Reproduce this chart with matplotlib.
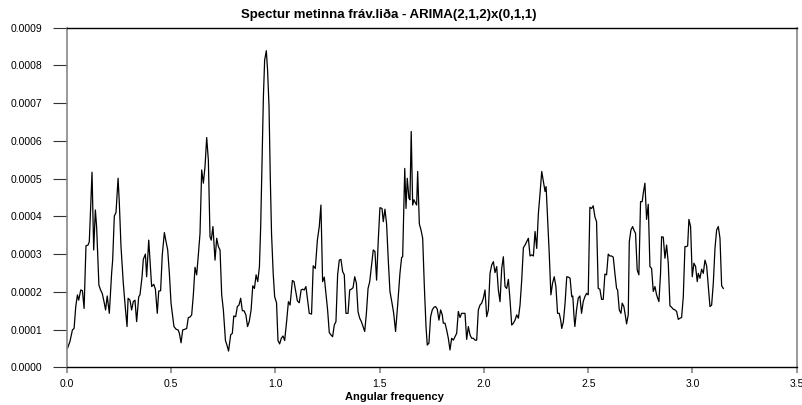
import matplotlib
matplotlib.use('Agg')
import matplotlib.pyplot as plt
import numpy as np
from matplotlib.ticker import FormatStrFormatter

plt.rcParams['font.family'] = ['Liberation Sans', 'DejaVu Sans']

title = 'Spectur metinna fráv.liða - ARIMA(2,1,2)x(0,1,1)'
xlabel = 'Angular frequency'

# spectrum, in pieces (values in units of 1e-4)
freq_a = [0.002, 0.014, 0.026, 0.034, 0.042, 0.050, 0.056, 0.066, 0.074, 0.082,
          0.091, 0.101, 0.107, 0.120, 0.128, 0.136, 0.142, 0.153, 0.161, 0.169,
          0.179, 0.185, 0.193, 0.203, 0.214, 0.219, 0.227, 0.235, 0.245, 0.251,
          0.259, 0.270, 0.280, 0.288, 0.293, 0.302, 0.310, 0.318, 0.326, 0.334,
          0.344, 0.350, 0.360, 0.366, 0.376, 0.382, 0.392, 0.398, 0.406, 0.416,
          0.424, 0.433, 0.440, 0.449, 0.457, 0.467, 0.475, 0.483, 0.491, 0.499]
spec_a = [0.50, 0.68, 0.99, 1.03, 1.61, 1.92, 1.78, 2.05, 2.03, 1.56,
          3.22, 3.24, 3.33, 5.17, 3.11, 4.17, 3.73, 2.18, 2.05, 1.96,
          1.70, 1.52, 1.89, 1.43, 2.49, 2.84, 4.01, 4.10, 5.01, 4.35,
          3.20, 2.23, 1.56, 1.08, 1.83, 1.78, 1.52, 1.74, 1.78, 1.21,
          1.87, 1.92, 2.40, 2.86, 3.00, 2.40, 3.37, 2.84, 2.14, 2.20,
          2.07, 1.43, 2.02, 2.03, 2.98, 3.57, 3.33, 3.11, 2.49, 1.70]

freq_b = [0.513, 0.523, 0.533, 0.539, 0.547, 0.555, 0.566, 0.574, 0.582, 0.590,
          0.598, 0.606, 0.614, 0.622, 0.630, 0.638, 0.646, 0.654, 0.662, 0.670,
          0.678, 0.686, 0.692, 0.700, 0.710, 0.718, 0.726, 0.734, 0.742, 0.750,
          0.760, 0.767, 0.775, 0.785, 0.793, 0.800, 0.809, 0.817, 0.825, 0.833,
          0.841, 0.849, 0.858, 0.866, 0.874, 0.883, 0.891, 0.899, 0.907, 0.915,
          0.923, 0.929, 0.935, 0.942, 0.948, 0.956, 0.962, 0.969, 0.975, 0.981,
          0.989, 0.996, 1.005, 1.012, 1.020, 1.028, 1.036, 1.044, 1.054]
spec_b = [1.08, 1.01, 0.99, 0.90, 0.65, 0.99, 1.01, 1.03, 1.32, 1.33,
          1.39, 1.92, 2.65, 2.45, 2.98, 3.55, 5.23, 4.88, 5.32, 6.09,
          5.49, 3.46, 3.37, 3.73, 2.84, 3.42, 3.20, 3.11, 1.92, 1.52,
          0.71, 0.59, 0.43, 0.86, 0.90, 1.36, 1.34, 1.61, 1.65, 1.83,
          1.50, 1.50, 1.39, 1.08, 1.21, 1.52, 2.16, 2.09, 2.45, 2.27,
          2.67, 3.73, 5.32, 7.17, 8.14, 8.39, 7.88, 6.91, 5.05, 3.55,
          2.49, 1.87, 1.71, 0.71, 0.62, 0.77, 0.83, 0.71, 1.25]

freq_c = [1.062, 1.070, 1.081, 1.089, 1.097, 1.105, 1.114, 1.123, 1.130, 1.138,
          1.146, 1.154, 1.162, 1.173, 1.181, 1.191, 1.201, 1.210, 1.218, 1.226,
          1.234, 1.242, 1.250, 1.258, 1.266, 1.274, 1.282, 1.290, 1.298, 1.306,
          1.314, 1.322, 1.330, 1.338, 1.348, 1.356, 1.364, 1.372, 1.380, 1.388,
          1.396, 1.404, 1.412, 1.420, 1.428, 1.436, 1.444, 1.452, 1.460, 1.469,
          1.477, 1.485, 1.493, 1.501, 1.511, 1.517, 1.525, 1.533, 1.541, 1.549,
          1.559, 1.567, 1.576, 1.586]
spec_c = [1.74, 1.65, 2.30, 2.27, 2.01, 1.76, 1.71, 2.05, 2.07, 2.05,
          2.14, 1.78, 1.43, 1.41, 2.69, 2.62, 3.37, 3.73, 4.30, 2.27,
          2.39, 1.96, 1.52, 0.92, 0.86, 0.81, 1.12, 1.21, 2.45, 2.84,
          2.86, 2.54, 2.45, 1.43, 1.43, 2.05, 2.07, 2.11, 2.40, 2.23,
          1.47, 1.30, 1.21, 1.08, 0.95, 1.43, 2.09, 2.27, 2.67, 3.11,
          3.07, 2.31, 3.37, 4.23, 4.21, 3.86, 4.19, 3.79, 2.84, 2.01,
          1.70, 1.43, 0.95, 1.65]

freq_d = [1.597, 1.605, 1.610, 1.620, 1.626, 1.632, 1.640, 1.645, 1.651, 1.658,
          1.664, 1.671, 1.677, 1.682, 1.690, 1.698, 1.706, 1.714, 1.722, 1.728,
          1.736, 1.744, 1.752, 1.760, 1.768, 1.776, 1.784, 1.792, 1.800, 1.805,
          1.813, 1.821, 1.829, 1.837, 1.845, 1.853, 1.861, 1.869, 1.877, 1.885,
          1.893, 1.901, 1.909, 1.917, 1.925, 1.933, 1.941, 1.949, 1.957, 1.965,
          1.973, 1.981, 1.989, 1.997, 2.005, 2.013, 2.021, 2.029, 2.037, 2.045,
          2.053, 2.061, 2.069, 2.077, 2.085, 2.093]
spec_d = [2.49, 2.91, 2.93, 5.27, 4.21, 5.01, 4.48, 4.44, 6.25, 4.30,
          4.44, 4.36, 4.30, 5.19, 3.80, 3.64, 3.42, 2.14, 1.08, 0.59,
          0.64, 1.34, 1.52, 1.59, 1.61, 1.54, 1.25, 1.52, 1.39, 1.17,
          1.17, 0.99, 0.77, 0.46, 0.77, 0.72, 0.81, 0.90, 1.48, 1.32,
          1.43, 1.43, 1.43, 0.74, 1.08, 0.86, 0.77, 0.77, 0.72, 0.72,
          1.52, 1.65, 1.70, 1.83, 2.05, 1.34, 1.52, 2.49, 2.71, 2.80,
          2.51, 2.67, 2.05, 1.74, 2.62, 2.93]

freq_e = [2.101, 2.109, 2.117, 2.125, 2.133, 2.141, 2.149, 2.157, 2.165, 2.173,
          2.181, 2.189, 2.197, 2.205, 2.213, 2.221, 2.229, 2.237, 2.245, 2.253,
          2.261, 2.269, 2.277, 2.285, 2.293, 2.298, 2.305, 2.313, 2.321, 2.329,
          2.337, 2.345, 2.353, 2.361, 2.368, 2.373, 2.381, 2.389, 2.397, 2.405,
          2.413, 2.421, 2.426, 2.432, 2.436, 2.444, 2.452, 2.460, 2.468, 2.476,
          2.484, 2.492, 2.500, 2.508, 2.516, 2.524, 2.532, 2.540, 2.548, 2.556,
          2.564, 2.572, 2.580, 2.588, 2.596, 2.604]
spec_e = [2.14, 2.09, 2.33, 1.78, 1.12, 1.17, 1.25, 1.39, 1.30, 1.65,
          2.31, 3.17, 3.24, 3.33, 3.42, 2.95, 2.98, 2.95, 3.60, 3.15,
          4.08, 4.61, 5.19, 4.92, 4.66, 4.79, 3.99, 3.02, 1.92, 2.23,
          2.40, 2.14, 1.43, 1.43, 1.25, 1.03, 1.21, 1.70, 2.40, 2.39,
          2.36, 1.87, 1.89, 1.34, 1.08, 1.52, 1.83, 1.89, 1.43, 1.74,
          1.87, 1.96, 1.92, 4.24, 4.21, 4.28, 3.99, 3.86, 2.09, 2.07,
          1.80, 1.80, 2.47, 2.45, 3.00, 2.95]

freq_f = [2.612, 2.620, 2.628, 2.636, 2.641, 2.649, 2.657, 2.663, 2.671, 2.679,
          2.684, 2.692, 2.697, 2.705, 2.713, 2.719, 2.727, 2.735, 2.743, 2.751,
          2.759, 2.764, 2.772, 2.780, 2.788, 2.796, 2.804, 2.812, 2.820, 2.828,
          2.839, 2.847, 2.852, 2.860, 2.868, 2.876, 2.884, 2.892, 2.900, 2.908,
          2.916, 2.924, 2.932, 2.940, 2.948, 2.956, 2.964, 2.972, 2.977, 2.983,
          2.991, 2.999, 3.007, 3.015, 3.023, 3.028, 3.036, 3.044, 3.052, 3.060,
          3.068, 3.076, 3.084, 3.092, 3.100, 3.108, 3.116, 3.124, 3.132, 3.140,
          3.148]
spec_f = [2.95, 2.92, 2.49, 2.09, 2.05, 1.52, 1.43, 1.70, 1.61, 1.34,
          1.15, 1.39, 3.33, 3.64, 3.73, 3.64, 3.55, 2.58, 2.45, 4.39,
          4.39, 4.61, 4.88, 3.92, 4.32, 2.67, 2.62, 2.01, 2.14, 1.92,
          1.74, 2.49, 3.46, 3.45, 2.89, 3.24, 2.76, 1.63, 1.59, 1.54,
          1.52, 1.48, 1.27, 1.30, 1.32, 1.87, 3.20, 3.20, 3.22, 3.92,
          3.73, 2.40, 2.76, 2.67, 2.27, 2.49, 2.36, 2.60, 2.49, 2.84,
          2.69, 2.14, 1.61, 1.65, 2.23, 3.15, 3.64, 3.73, 3.42, 2.16,
          2.09]

freq = np.concatenate([freq_a, freq_b, freq_c, freq_d, freq_e, freq_f])
spec = np.concatenate([spec_a, spec_b, spec_c, spec_d, spec_e, spec_f]) * 1e-4

fig = plt.figure(figsize=(8.03, 4.05), dpi=100)
ax = fig.add_axes([67 / 803, 37.7 / 405, 729.7 / 803, 339.6 / 405])
ax.plot(freq, spec, color='black', lw=0.9)

ax.set_xlim(0, 3.5)
ax.set_ylim(0, 0.0009)
ax.set_xticks(np.arange(0, 3.51, 0.5))
ax.set_yticks(np.arange(0, 0.00091, 0.0001))
ax.xaxis.set_major_formatter(FormatStrFormatter('%.1f'))
ax.yaxis.set_major_formatter(FormatStrFormatter('%.4f'))
ax.tick_params(axis='y', direction='out', length=10, width=0.8, color='#333333',
               pad=8, labelsize=7.5)
ax.tick_params(axis='x', direction='out', length=4.5, width=1.2, color='#888888',
               pad=4, labelsize=7.5)

for s in ('top', 'bottom'):
    ax.spines[s].set_color('black')
    ax.spines[s].set_linewidth(1.0)
for s in ('left', 'right'):
    ax.spines[s].set_color('#888888')
    ax.spines[s].set_linewidth(1.2)

fig.text(389 / 803, 1 - 15 / 405, title, ha='center', va='center',
         fontsize=9.5, fontweight='bold')
fig.text(394 / 803, 1 - 400 / 405, xlabel, ha='center', va='baseline',
         fontsize=8, fontweight='bold')

fig.savefig('out.png', dpi=100)
